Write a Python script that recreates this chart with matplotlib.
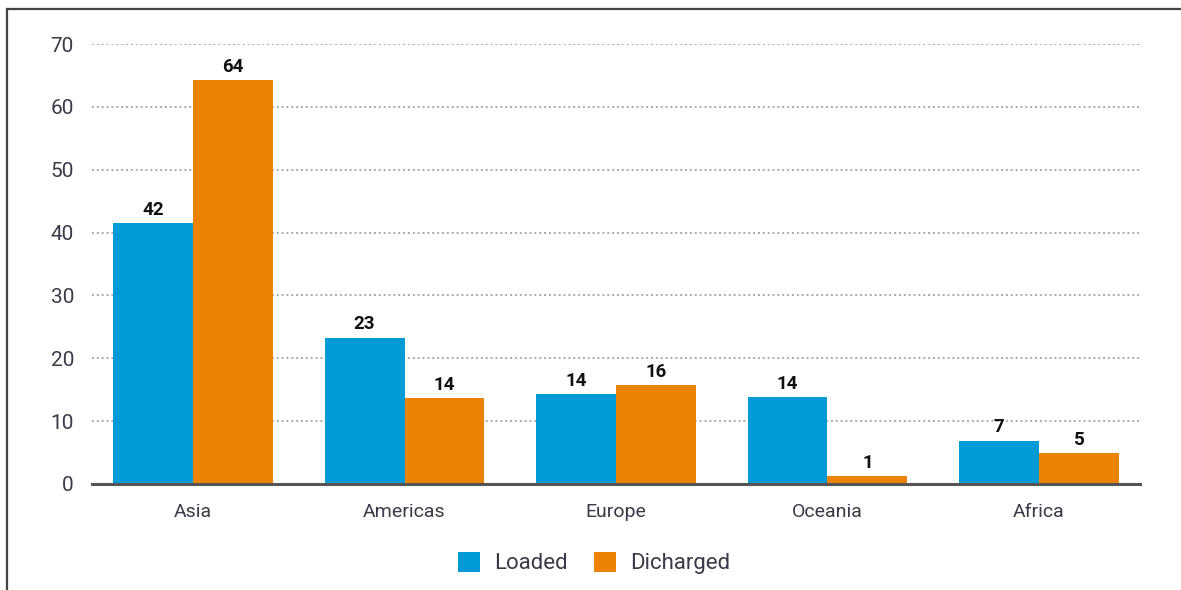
import numpy as np
import matplotlib
matplotlib.use("Agg")
import matplotlib.pyplot as plt
from matplotlib.lines import Line2D

regions = ["Asia", "Americas", "Europe", "Oceania", "Africa"]
loaded = [41.5, 23.3, 14.3, 13.8, 6.9]
discharged = [64.3, 13.6, 15.7, 1.2, 4.9]
loaded_labels = ["42", "23", "14", "14", "7"]
discharged_labels = ["64", "14", "16", "1", "5"]
yticks = [0, 10, 20, 30, 40, 50, 60, 70]

blue = "#009ad7"
orange = "#eb8306"
text_col = "#3a3a48"

plt.rcParams["font.family"] = ["Roboto", "DejaVu Sans"]

fig = plt.figure(figsize=(11.81, 5.90), dpi=100)
ax = fig.add_axes([0.0779, 0.1797, 0.8874, 0.7457])

x = np.arange(len(regions))
w = 0.378
b1 = ax.bar(x - w / 2, loaded, width=w, color=blue, label="Loaded", zorder=3)
b2 = ax.bar(x + w / 2, discharged, width=w, color=orange, label="Dicharged", zorder=3)

for bars, labs in ((b1, loaded_labels), (b2, discharged_labels)):
    for r, lab in zip(bars, labs):
        ax.annotate(lab, (r.get_x() + r.get_width() / 2, r.get_height()),
                    xytext=(0, 3), textcoords="offset points",
                    ha="center", va="bottom", fontsize=13.5, fontweight="bold",
                    color="#111111", zorder=4)

ax.set_xlim(-0.478, 4.478)
ax.set_ylim(0, 70)
ax.set_yticks(yticks)
ax.set_xticks(x)
ax.set_xticklabels(regions)
ax.tick_params(axis="y", length=0, pad=13, labelsize=15, labelcolor=text_col)
ax.tick_params(axis="x", length=0, pad=14, labelsize=14, labelcolor=text_col)
ax.yaxis.grid(True, linestyle=(0, (1, 1.5)), color="#aaaaaa", linewidth=1.4, zorder=0)
ax.set_axisbelow(True)
for s in ["top", "right", "left"]:
    ax.spines[s].set_visible(False)
ax.spines["bottom"].set_color("#555555")
ax.spines["bottom"].set_linewidth(2.2)
ax.spines["bottom"].set_zorder(5)

ax.legend(loc="center", bbox_to_anchor=(0.479, -0.18), ncol=2, frameon=False,
          fontsize=16, handlelength=1.0, handleheight=1.0, handletextpad=0.6,
          columnspacing=1.2, labelcolor=text_col)

# outer frame (left and top edges visible)
fig.add_artist(Line2D([0.0059, 0.0059], [0.0, 0.985], transform=fig.transFigure,
                      color="#444444", linewidth=1.6))
fig.add_artist(Line2D([0.0059, 1.0], [0.985, 0.985], transform=fig.transFigure,
                      color="#444444", linewidth=1.6))

fig.savefig("out.png", dpi=100)
